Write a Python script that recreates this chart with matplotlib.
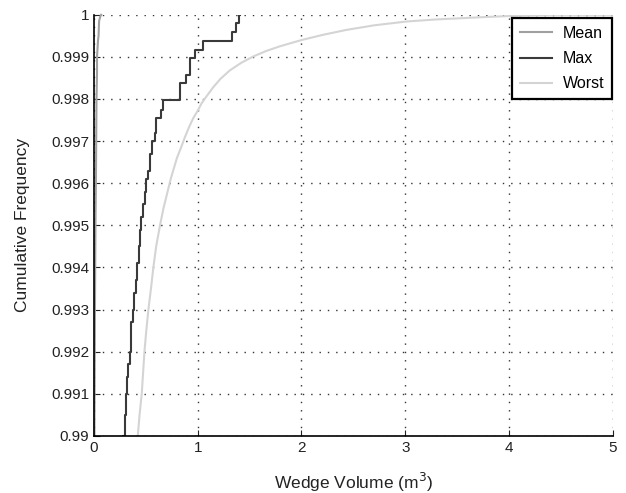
import matplotlib
matplotlib.use("Agg")
import matplotlib.pyplot as plt

plt.rcParams['font.family'] = ['Liberation Sans', 'DejaVu Sans']

# Mean: tiny volumes hugging the y axis
mean_x = [0.005, 0.01, 0.015, 0.02, 0.025, 0.03, 0.03, 0.04, 0.045, 0.05, 0.06, 0.07]
mean_y = [0.9900, 0.9930, 0.9950, 0.9962, 0.9980, 0.9986, 0.9990, 0.9994, 0.9995, 0.99985, 0.99995, 1.0]

# Max: empirical CDF, jump positions and level after each jump
max_x = [0.28, 0.30, 0.31, 0.32, 0.33, 0.345, 0.355, 0.36, 0.375, 0.39, 0.41,
         0.42, 0.43, 0.44, 0.455, 0.475, 0.49, 0.505, 0.52, 0.545, 0.555,
         0.585, 0.60, 0.65, 0.67, 0.83, 0.89, 0.925, 0.97, 1.05, 1.335,
         1.37, 1.40, 1.41]
max_y = [0.9900, 0.9905, 0.9910, 0.9914, 0.9917, 0.9920, 0.9924, 0.9927,
         0.9930, 0.9934, 0.9937, 0.9941, 0.9945, 0.9949, 0.9952, 0.9955,
         0.9958, 0.9961, 0.9963, 0.9967, 0.9970, 0.9972, 0.99755, 0.99775,
         0.99797, 0.99838, 0.99857, 0.99897, 0.99917, 0.99938, 0.9996,
         0.9998, 1.0, 1.0]

# Worst: smooth curve
worst_x = [0.423, 0.44, 0.461, 0.487, 0.505, 0.525, 0.55, 0.573, 0.60, 0.637,
           0.67, 0.70, 0.74, 0.80, 0.84, 0.878, 0.92, 0.958, 1.0, 1.038, 1.09,
           1.15, 1.22, 1.31, 1.42, 1.535, 1.66, 1.79, 2.0, 2.2, 2.43, 2.7,
           3.01, 3.3, 3.55, 3.8, 4.0, 4.2, 4.4, 5.0]
worst_y = [0.9900, 0.9905, 0.9910, 0.9920, 0.9925, 0.9930, 0.9935, 0.9940,
           0.9945, 0.9950, 0.9954, 0.9957, 0.9961, 0.9966, 0.99685, 0.9971,
           0.99735, 0.99755, 0.99772, 0.9979, 0.99808, 0.99828, 0.99848,
           0.99868, 0.99886, 0.99901, 0.99914, 0.99925, 0.9994, 0.99952,
           0.99964, 0.99975, 0.99984, 0.99989, 0.99992, 0.99995, 0.99997,
           0.99999, 1.0, 1.0]

yticks = [0.99, 0.991, 0.992, 0.993, 0.994, 0.995, 0.996, 0.997, 0.998, 0.999, 1.0]
ytick_labels = ['0.99', '0.991', '0.992', '0.993', '0.994', '0.995',
                '0.996', '0.997', '0.998', '0.999', '1']
xticks = [0, 1, 2, 3, 4, 5]

fig = plt.figure(figsize=(6.26, 4.93), dpi=100)
ax = fig.add_axes([0.150, 0.116, 0.829, 0.854])

ax.plot(mean_x, mean_y, color='#a0a0a0', lw=1.5, label='Mean', clip_on=False)
ax.step(max_x, max_y, where='post', color='#3a3a3a', lw=1.5, label='Max')
ax.plot(worst_x, worst_y, color='#d4d4d4', lw=1.5, label='Worst')

ax.set_xlim(0, 5)
ax.set_ylim(0.99, 1.0)
ax.set_xticks(xticks)
ax.set_yticks(yticks)
ax.set_yticklabels(ytick_labels)
ax.grid(True, color='#333333', linestyle=(0, (1, 5)), lw=1.0)
ax.spines['top'].set_visible(False)
ax.spines['right'].set_visible(False)
ax.spines['left'].set_linewidth(1.2)
ax.spines['bottom'].set_linewidth(1.2)
ax.tick_params(direction='in', length=4, labelsize=11, colors='#222222')

ax.set_xlabel('Wedge Volume (m$^3$)', fontsize=12.5, color='#222222', labelpad=12)
ax.set_ylabel('Cumulative Frequency', fontsize=12.5, color='#222222', labelpad=15)

leg = ax.legend(loc='upper right', fontsize=11.5, fancybox=False, framealpha=1,
                borderpad=0.5, handlelength=2.0, handletextpad=0.7,
                labelspacing=0.65, borderaxespad=0.0,
                bbox_to_anchor=(0.999, 0.993))
leg.get_frame().set_edgecolor('black')
leg.get_frame().set_linewidth(1.6)

fig.savefig('out.png', dpi=100)
